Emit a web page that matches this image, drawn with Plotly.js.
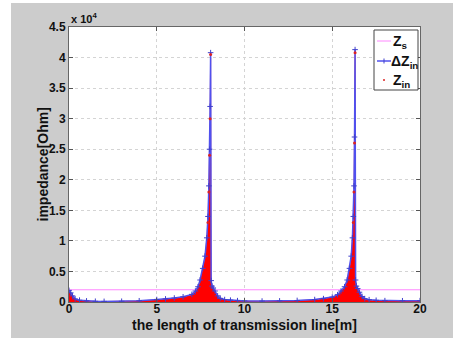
<!DOCTYPE html>
<html>
<head>
<meta charset="utf-8">
<script src="https://cdn.plot.ly/plotly-3.0.1.min.js"></script>
<style>
html,body{margin:0;padding:0;background:#ffffff;width:453px;height:338px;overflow:hidden;}
#chart{position:absolute;left:11px;top:3px;width:442px;height:335px;}
</style>
</head>
<body>
<div id="chart"></div>
<script>
// transmission line length [m]
const lengthM = [0, 0.1, 0.2, 0.35, 0.6, 1, 1.5, 2, 3, 4, 5, 5.5, 6, 6.5, 7, 7.2, 7.35, 7.47, 7.62, 7.75, 7.85, 7.92, 7.97, 8.01, 8.04, 8.07, 8.1, 8.15, 8.22, 8.32, 8.47, 8.62, 8.87, 9.2, 9.6, 10, 11, 12, 13, 14, 14.5, 15, 15.3, 15.5, 15.7, 15.85, 15.98, 16.08, 16.15, 16.2, 16.24, 16.27, 16.3, 16.33, 16.38, 16.45, 16.55, 16.7, 16.85, 17.1, 17.5, 18, 19, 20];
// envelope of delta Z_in [Ohm]
const deltaZin = [1900, 1500, 1000, 500, 300, 180, 120, 100, 120, 200, 400, 500, 650, 850, 1250, 1800, 2500, 3600, 5500, 7500, 10500, 14000, 19000, 25000, 32000, 40800, 3500, 2600, 2300, 1800, 1000, 600, 400, 300, 220, 180, 150, 180, 250, 400, 550, 800, 1200, 1800, 2500, 3600, 5500, 7500, 10500, 14000, 19000, 27000, 41300, 3600, 2600, 2200, 1600, 900, 550, 380, 280, 220, 200, 220];
// Z_in filled region (sampled points just under the envelope) [Ohm]
const zin = [1800, 1400, 950, 450, 250, 150, 100, 80, 100, 170, 350, 450, 600, 800, 1200, 1750, 2400, 3500, 5300, 7300, 10200, 13500, 18500, 24500, 31000, 40000, 3300, 2500, 2200, 1700, 950, 550, 350, 250, 180, 150, 120, 150, 220, 350, 500, 750, 1150, 1750, 2400, 3500, 5300, 7300, 10200, 13500, 18500, 26000, 40500, 3400, 2500, 2100, 1500, 850, 500, 330, 230, 180, 160, 180];
// Z_s constant
const zsX = [0, 20];
const zsY = [2000, 2000];
// red sample points on the peaks
const zinPtsX = [7.92, 7.97, 8.01, 8.04, 8.07, 16.2, 16.24, 16.27, 16.3];
const zinPtsY = [13000, 18000, 24000, 30000, 40500, 13000, 18000, 26000, 40800];
// axis ticks
const yTickVals = [0, 5000, 10000, 15000, 20000, 25000, 30000, 35000, 40000, 45000];
const yTickText = ['0', '0.5', '1', '1.5', '2', '2.5', '3', '3.5', '4', '4.5'];
const xTickVals = [0, 5, 10, 15, 20];
// legend labels
const legendNames = ['Z<sub>s</sub>', 'ΔZ<sub>in</sub>', 'Z<sub>in</sub>'];

const F = 'Liberation Sans, Arial, sans-serif';
const traces = [
  {x: zsX, y: zsY, mode: 'lines', line: {color: '#ff88ff', width: 1}},
  {x: lengthM, y: zin, mode: 'lines', fill: 'tozeroy', fillcolor: '#ff0000', line: {color: '#ff0000', width: 0.5}},
  {x: lengthM, y: deltaZin, mode: 'lines+markers', line: {color: '#5050ee', width: 1.5}, marker: {symbol: 'cross-thin', size: 4, line: {color: '#4040cc', width: 1}, color: '#4040cc'}},
  {x: zinPtsX, y: zinPtsY, mode: 'markers', marker: {symbol: 'circle', size: 3, color: '#dd2222'}}
];

// pixel helpers for the hand-made legend box (paper coordinates)
const PW = 351, PH = 275;
const px = v => (v - 69) / PW;
const py = v => (302 - v) / PH;

const shapes = [
  {type: 'rect', xref: 'paper', yref: 'paper', x0: px(374), x1: px(418), y0: py(90), y1: py(30), fillcolor: '#ffffff', line: {color: '#444', width: 1}},
  {type: 'line', xref: 'paper', yref: 'paper', x0: px(377), x1: px(391), y0: py(41), y1: py(41), line: {color: '#ff88ff', width: 1}},
  {type: 'line', xref: 'paper', yref: 'paper', x0: px(377), x1: px(391), y0: py(61), y1: py(61), line: {color: '#5050ee', width: 1.5}},
  {type: 'line', xref: 'paper', yref: 'paper', x0: px(384), x1: px(384), y0: py(58.5), y1: py(63.5), line: {color: '#4040cc', width: 1}},
  {type: 'circle', xref: 'paper', yref: 'paper', x0: px(383), x1: px(385), y0: py(81), y1: py(79), fillcolor: '#dd2222', line: {color: '#dd2222', width: 0}}
];

const layout = {
  width: 442, height: 335,
  margin: {l: 58, r: 33, t: 24, b: 36},
  paper_bgcolor: '#cccccc',
  plot_bgcolor: '#ffffff',
  font: {family: F, size: 12, color: '#111'},
  showlegend: false,
  xaxis: {range: [0, 20], tickvals: xTickVals, ticks: 'inside', ticklen: 4, tickcolor: '#555', mirror: 'ticks',
          showline: true, linecolor: '#666', linewidth: 1, showgrid: true, gridcolor: '#d4d4d4', griddash: 'dot', zeroline: false,
          ticklabelstandoff: -4,
          tickfont: {family: F, size: 12, weight: 'bold'}},
  yaxis: {range: [0, 45000], tickvals: yTickVals, ticktext: yTickText, ticks: 'inside', ticklen: 4, tickcolor: '#555', mirror: 'ticks',
          showline: true, linecolor: '#666', linewidth: 1, showgrid: true, gridcolor: '#d4d4d4', griddash: 'dot', zeroline: false,
          tickfont: {family: F, size: 12, weight: 'bold'}},
  shapes: shapes,
  annotations: [
    {xref: 'paper', yref: 'paper', x: 0.0, y: 1.0, xanchor: 'left', yanchor: 'bottom', showarrow: false,
     text: 'x 10<sup>4</sup>', font: {family: F, size: 11, weight: 'bold', color: '#111'}},
    {xref: 'paper', yref: 'paper', x: 0.5, y: py(325), xanchor: 'center', yanchor: 'middle', showarrow: false,
     text: 'the length of transmission line[m]', font: {family: F, size: 14, weight: 'bold', color: '#111'}},
    {xref: 'paper', yref: 'paper', x: px(42), y: 0.5, xanchor: 'center', yanchor: 'middle', showarrow: false, textangle: -90,
     text: 'impedance[Ohm]', font: {family: F, size: 14, weight: 'bold', color: '#111'}},
    {xref: 'paper', yref: 'paper', x: px(391), y: py(42), xanchor: 'left', yanchor: 'middle', showarrow: false,
     text: legendNames[0], font: {family: F, size: 14, weight: 'bold', color: '#111'}},
    {xref: 'paper', yref: 'paper', x: px(389), y: py(62), xanchor: 'left', yanchor: 'middle', showarrow: false,
     text: legendNames[1], font: {family: F, size: 14, weight: 'bold', color: '#111'}},
    {xref: 'paper', yref: 'paper', x: px(391), y: py(81), xanchor: 'left', yanchor: 'middle', showarrow: false,
     text: legendNames[2], font: {family: F, size: 14, weight: 'bold', color: '#111'}}
  ]
};
Plotly.newPlot('chart', traces, layout, {displayModeBar: false, staticPlot: true});
</script>
</body>
</html>
